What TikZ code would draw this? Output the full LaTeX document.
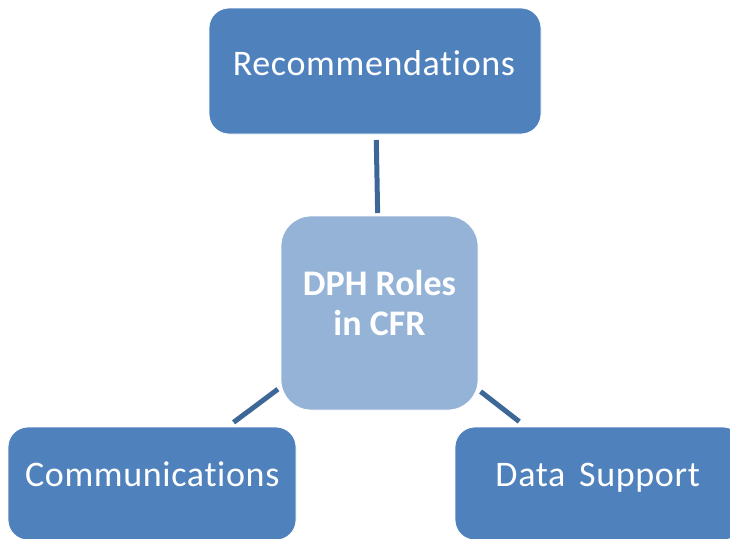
\documentclass[tikz,border=0pt]{standalone}
\usepackage{fontspec}
\setmainfont{Carlito}
\newfontfamily\outerfont{Carlito}[LetterSpace=1.8,Ligatures=NoCommon]
\definecolor{darkbox}{HTML}{4F81BD}
\definecolor{lightbox}{HTML}{95B3D7}
\definecolor{linkcol}{HTML}{3D6796}
\begin{document}
\begin{tikzpicture}[x=1pt,y=-1pt,
  outerbox/.style={rectangle, rounded corners=20pt, fill=darkbox, draw=white, line width=0.8pt, inner sep=0pt},
  centerbox/.style={rectangle, rounded corners=30pt, fill=lightbox, draw=white, line width=0.8pt, inner sep=0pt},
  lbl/.style={text=white, font=\outerfont\fontsize{36}{41}\selectfont, inner sep=0pt, anchor=base},
  clbl/.style={text=white, font=\fontsize{36}{40}\selectfont\bfseries, inner sep=0pt, align=center},
  link/.style={draw=linkcol, line width=5pt}]
\useasboundingbox (0,0) rectangle (730,538);
\node[outerbox, minimum width=332pt, minimum height=126pt] (t) at (375,71) {};
\node[centerbox, minimum width=197pt, minimum height=194pt] (c) at (379.5,313) {};
\node[outerbox, minimum width=288pt, minimum height=113pt] (bl) at (152,483.5) {};
\node[outerbox, minimum width=288pt, minimum height=113pt] (br) at (599,483.5) {};
\node[lbl] (tl) at (374,75) {Recommendations};
\node[clbl] (cl) at (379.5,303) {DPH Roles\\in CFR};
\node[lbl] (bll) at (152.3,486) {Communications};
\node[lbl] (brl) at (597.7,486) {Data\hspace{5pt} Support};
\draw[link, shorten <=69pt, shorten >=100pt] (t.center) -- (c.center);
\draw[link, shorten <=127pt, shorten >=102pt] (c.center) -- (bl.center);
\draw[link, shorten <=128pt, shorten >=101pt] (c.center) -- (br.center);
\end{tikzpicture}
\end{document}
